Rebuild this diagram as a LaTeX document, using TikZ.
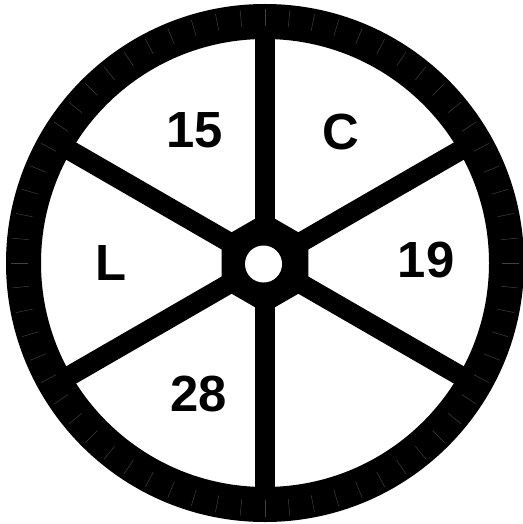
\documentclass[tikz,border=0pt]{standalone}
\usepackage{fontspec}
\setmainfont{Liberation Sans}
\usetikzlibrary{calc}
\tikzset{
  lbl/.style={inner sep=0pt, anchor=center, font=\fontsize{51}{51}\selectfont\bfseries},
  spoke/.style={line width=20, draw=black},
  tick/.style={draw=black!75, line width=0.5}
}
\begin{document}
\begin{tikzpicture}[x=1bp,y=-1bp]
\useasboundingbox (0,0) rectangle (523,524);
\coordinate (c) at (265,263);
% rim
\fill[even odd rule] (c) circle[radius=259] (c) circle[radius=224];
% ticks
\foreach \a in {0,5.625,...,359} {
  \draw[tick] ($(c)+(\a:237)$) -- ($(c)+(\a:254)$);
}
% spokes
\foreach \a in {90,30,-30,-90,-150,150} {
  \draw[spoke] (c) -- ($(c)+(\a:235)$);
}
% hub
\fill[rounded corners=6] ($(c)+(90:50)$) -- ($(c)+(30:50)$) -- ($(c)+(-30:50)$) -- ($(c)+(-90:50)$) -- ($(c)+(-150:50)$) -- ($(c)+(150:50)$) -- cycle;
\fill[white] (263.5,264) circle[radius=18.5];
% labels
\node[lbl] (n15) at (195,130) {15};
\node[lbl] (nC) at (340.5,132) {C};
\node[lbl] (n19) at (426,260) {19};
\node[lbl] (nL) at (111.5,263.5) {L};
\node[lbl] (n28) at (199,394) {28};
\end{tikzpicture}
\end{document}
